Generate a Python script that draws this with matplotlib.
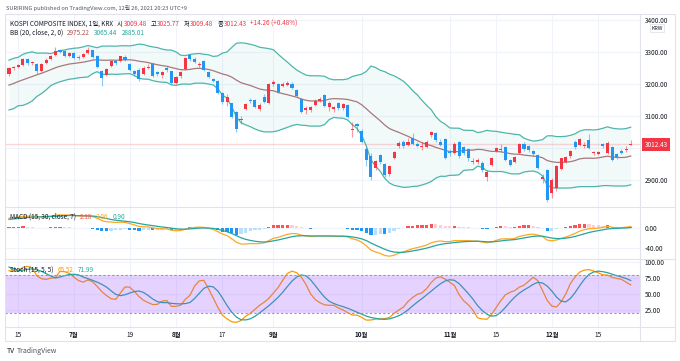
import matplotlib
matplotlib.use('Agg')
import matplotlib.pyplot as plt
import numpy as np
import pandas as pd
from matplotlib.lines import Line2D
from matplotlib.patches import Rectangle
from matplotlib.ticker import FormatStrFormatter

plt.rcParams['font.family'] = ['Noto Sans CJK KR', 'DejaVu Sans']
plt.rcParams['axes.unicode_minus'] = False

W, H = 680, 361

# closes before the visible range (only feed the indicators)
pre_close = [3087, 3112, 3120, 3127, 3137, 3143, 3131, 3135, 3169, 3182, 3194, 3198,
             3198, 3220, 3171, 3177, 3186, 3217, 3215, 3181, 3174, 3147,
             3127, 3147, 3178, 3197, 3249, 3209, 3161, 3122, 3153, 3134, 3173,
             3162, 3156, 3144, 3168, 3165, 3165, 3188, 3204,
             3221, 3224, 3247, 3240, 3252, 3247, 3216, 3225]

holidays = ['2021-08-16', '2021-09-20', '2021-09-21', '2021-09-22', '2021-10-04', '2021-10-11']

opens = [3230, 3249, 3254, 3259, 3277, 3265, 3262, 3240, 3265, 3277, 3290, 3305, 3303, 3287,
         3297, 3285, 3285, 3297, 3305, 3288, 3240, 3228, 3257, 3272, 3273, 3285, 3262, 3240,
         3245, 3232, 3250, 3262, 3238, 3228, 3249, 3240,
         3203, 3224, 3246, 3290, 3279, 3258, 3272, 3238, 3215, 3210, 3171, 3145, 3140, 3112,
         3086, 3121, 3150, 3150, 3122, 3160, 3142,
         3199, 3200, 3194, 3198, 3201, 3181, 3152, 3118, 3120, 3135, 3148, 3165, 3129, 3123,
         3140, 3125, 3133, 3055, 3075,
         3053, 2998, 2975, 2936, 2978, 2950, 2918, 2968, 3005, 3020, 3010, 3030, 3014, 3003,
         3004, 3040, 3048, 3020, 3027,
         2989, 2983, 3020, 3004, 2996, 2957, 2957, 2952, 2910, 2947, 2992, 2993, 3004, 2962,
         2957, 2983, 3014, 3005, 2990, 2978, 2902, 2931,
         2858, 2874, 2935, 2957, 2975, 3018, 3009, 3005, 3024, 2983, 2982, 3012, 2985, 3003,
         2980, 2992, 2993, 3009.48]
highs = [3254, 3256, 3262, 3282, 3280, 3272, 3266, 3267, 3280, 3292, 3316, 3310, 3306, 3300,
         3300, 3292, 3296, 3316, 3307, 3292, 3243, 3250, 3275, 3276, 3288, 3290, 3265, 3245,
         3250, 3255, 3262, 3268, 3242, 3240, 3255, 3242,
         3225, 3240, 3284, 3294, 3283, 3268, 3276, 3242, 3218, 3212, 3174, 3170, 3142, 3115,
         3100, 3142, 3156, 3153, 3142, 3168, 3202,
         3212, 3203, 3205, 3208, 3206, 3184, 3155, 3132, 3130, 3152, 3158, 3170, 3148, 3130,
         3143, 3140, 3137, 3080, 3078,
         3058, 3002, 2985, 2962, 2982, 2952, 2946, 2990, 3022, 3025, 3030, 3048, 3020, 3018,
         3025, 3052, 3050, 3028, 3030,
         2996, 3018, 3022, 3007, 2999, 2970, 2968, 2958, 2930, 2971, 3003, 3014, 3007, 2966,
         2975, 3016, 3018, 3008, 2995, 2981, 2920, 2935,
         2905, 2948, 2970, 2975, 2993, 3025, 3032, 3018, 3043, 2992, 2992, 3016, 3022, 3005,
         2985, 2996, 3005, 3025.77]
lows = [3226, 3244, 3250, 3256, 3260, 3258, 3230, 3238, 3262, 3275, 3288, 3296, 3284, 3283,
        3278, 3275, 3282, 3293, 3280, 3250, 3195, 3224, 3254, 3260, 3270, 3272, 3240, 3225,
        3210, 3228, 3246, 3222, 3226, 3218, 3238, 3200,
        3200, 3220, 3244, 3272, 3265, 3252, 3240, 3218, 3205, 3168, 3138, 3130, 3095, 3049,
        3075, 3118, 3140, 3125, 3115, 3140, 3138,
        3195, 3172, 3190, 3194, 3185, 3160, 3110, 3105, 3112, 3132, 3144, 3128, 3115, 3112,
        3120, 3120, 3095, 3035, 3050,
        3015, 2944, 2901, 2930, 2950, 2910, 2912, 2965, 3000, 3000, 3005, 3010, 3002, 2995,
        3000, 3035, 3020, 3005, 2965,
        2976, 2980, 2970, 2979, 2960, 2950, 2950, 2926, 2897, 2944, 2986, 2989, 2958, 2944,
        2952, 2980, 2990, 2989, 2975, 2934, 2890, 2832,
        2845, 2865, 2930, 2952, 2970, 2998, 3005, 3000, 2998, 2978, 2978, 3000, 2980, 2960,
        2965, 2980, 2988, 3009.48]
closes = [3249, 3252, 3258, 3278, 3265, 3268, 3240, 3264, 3276, 3286, 3302, 3301, 3286, 3296,
          3282, 3281, 3293, 3305, 3285, 3252, 3218, 3246, 3271, 3265, 3286, 3276, 3244, 3232,
          3216, 3250, 3254, 3225, 3232, 3236, 3243, 3202,
          3223, 3237, 3280, 3277, 3270, 3262, 3243, 3222, 3209, 3171, 3143, 3158, 3097, 3060,
          3091, 3138, 3146, 3128, 3133, 3144, 3199,
          3207, 3175, 3201, 3203, 3187, 3162, 3114, 3125, 3127, 3148, 3153, 3130, 3140, 3127,
          3125, 3136, 3097, 3060, 3068,
          3019, 2962, 2908, 2959, 2956, 2916, 2944, 2988, 3015, 3006, 3020, 3013, 3007, 3006,
          3020, 3049, 3025, 3009, 2968,
          2983, 3013, 2975, 2983, 2969, 2960, 2962, 2930, 2925, 2968, 2999, 2997, 2962, 2947,
          2971, 3013, 2997, 2994, 2980, 2936, 2909, 2839,
          2900, 2945, 2968, 2973, 2991, 3002, 3029, 3010, 3001, 2987, 2989, 3006, 3017, 2963,
          2973, 2985, 2998.17, 3012.43]

tick_dates = ['2021-06-15', '2021-07-01', '2021-07-19', '2021-08-02', '2021-08-17', '2021-09-01',
              '2021-10-01', '2021-11-01', '2021-11-15', '2021-12-01', '2021-12-15']
tick_labels = ['15', '7월', '19', '8월', '17', '9월', '10월', '11월', '15', '12월', '15']
price_ticks = [3400, 3300, 3200, 3100, 3000, 2900]
macd_ticks = [0, -40]
stoch_ticks = [100, 75, 50, 25]

dates = pd.bdate_range('2021-06-11', '2021-12-24')
dates = dates[~dates.isin(pd.to_datetime(holidays))]
x = np.arange(len(dates))

# indicators
n_pre = len(pre_close)
c_all = pd.Series(pre_close + closes, dtype=float)
h_all = pd.Series(pre_close + highs, dtype=float)
l_all = pd.Series(pre_close + lows, dtype=float)

basis = c_all.rolling(20).mean()
dev = c_all.rolling(20).std(ddof=0)
upper = (basis + 2 * dev)[n_pre:].values
lower = (basis - 2 * dev)[n_pre:].values
basis = basis[n_pre:].values

macd = c_all.ewm(span=15, adjust=False).mean() - c_all.ewm(span=30, adjust=False).mean()
signal = macd.ewm(span=7, adjust=False).mean()
hist = macd - signal
hist_prev = hist.shift(1)
macd, signal, hist, hist_prev = [s[n_pre:].values for s in (macd, signal, hist, hist_prev)]

ll = l_all.rolling(15).min()
hh = h_all.rolling(15).max()
k = (100 * (c_all - ll) / (hh - ll)).rolling(5).mean()
d = k.rolling(5).mean()
k, d = k[n_pre:].values, d[n_pre:].values

UP, DOWN = '#f23645', '#2196f3'
TEAL = '#26a69a'
GRID = '#f0f3fa'
BORDER = '#e0e3eb'
TXT = '#131722'
FS = 4.6

fig = plt.figure(figsize=(6.8, 3.61), dpi=100)


def rect(x0, y0, x1, y1):
    return [x0 / W, 1 - y1 / H, (x1 - x0) / W, (y1 - y0) / H]


ax = fig.add_axes(rect(5, 14, 640, 207))
axm = fig.add_axes(rect(5, 207, 640, 259), sharex=ax)
axs = fig.add_axes(rect(5, 259, 640, 327), sharex=ax)

tick_pos = [int(np.where(dates == pd.Timestamp(t))[0][0]) for t in tick_dates]

for a in (ax, axm, axs):
    for sp in a.spines.values():
        sp.set_visible(False)
    a.yaxis.tick_right()
    a.yaxis.set_major_formatter(FormatStrFormatter('%.2f'))
    a.tick_params(axis='y', length=0, pad=3.5, labelsize=FS, labelcolor=TXT)
    a.tick_params(axis='x', length=0)
    a.grid(True, color=GRID, lw=0.8)
    a.set_axisbelow(True)
    a.set_xticks(tick_pos)
ax.tick_params(axis='x', labelbottom=False)
axm.tick_params(axis='x', labelbottom=False)
axs.set_xticklabels(tick_labels)
axs.tick_params(axis='x', pad=3, labelsize=FS, labelcolor=TXT)
for lab in axs.get_xticklabels():
    if lab.get_text().endswith('월'):
        lab.set_fontweight('bold')
ax.set_xlim(-0.86, 136.0)

# main pane: Bollinger bands + candles
ax.fill_between(x, lower, upper, color=TEAL, alpha=0.06, lw=0)
ax.plot(x, upper, color='#4db6ac', lw=0.9)
ax.plot(x, lower, color='#4db6ac', lw=0.9)
ax.plot(x, basis, color='#a8787a', lw=0.9)
ax.axhline(closes[-1], color=UP, alpha=0.2, lw=1)

o = np.array(opens)
c = np.array(closes)
up = c >= o
col = np.where(up, UP, DOWN)
ax.vlines(x, lows, highs, colors=col, lw=0.8, alpha=0.5, zorder=2)
ax.bar(x, np.maximum(np.abs(c - o), 1.5), bottom=np.minimum(o, c), width=0.66,
       color=col, zorder=3)
ax.set_ylim(2815.6, 3418.75)
ax.set_yticks(price_ticks)

# MACD pane
hcol = np.where(hist >= 0,
                np.where(hist >= hist_prev, '#ff5252', '#ffcdd2'),
                np.where(hist < hist_prev, '#2196f3', '#bbdefb'))
axm.bar(x, hist, width=0.7, color=hcol, zorder=2)
axm.plot(x, macd, color='#ffa726', lw=0.9, zorder=3)
axm.plot(x, signal, color=TEAL, lw=0.9, zorder=3)
axm.set_ylim(-62, 42)
axm.set_yticks(macd_ticks)

# Stoch pane
axs.plot(x, k, color='#ff9800', lw=0.9, zorder=2)
axs.plot(x, d, color=TEAL, lw=0.9, zorder=2)
axs.axhspan(20, 80, color='#9c4dff', alpha=0.25, lw=0, zorder=3)
for lvl in (80, 20):
    axs.axhline(lvl, color='#9598a1', lw=0.8, ls=(0, (2, 2)), zorder=4)
axs.set_ylim(-1.6, 104.7)
axs.set_yticks(stoch_ticks)

# frame and pane separators
fig.add_artist(Rectangle((5 / W, 1 - 341 / H), 670 / W, 327 / H, transform=fig.transFigure,
                         fill=False, ec=BORDER, lw=0.8))
for yy in (207, 259, 327):
    fig.add_artist(Line2D([5 / W, 675 / W], [1 - yy / H] * 2, color=BORDER, lw=0.8))
fig.add_artist(Line2D([640 / W] * 2, [1 - 14 / H, 1 - 341 / H], color=BORDER, lw=0.8))

# text rows
renderer = fig.canvas.get_renderer()


def text_row(x0, y0, parts, size=FS):
    xx = x0
    for s, color, gap in parts:
        xx += gap
        t = fig.text(xx / W, 1 - y0 / H, s, color=color, fontsize=size, ha='left', va='center')
        xx += t.get_window_extent(renderer).width


text_row(6, 8, [('SURIRING published on TradingView.com, 12월 26, 2021 20:23 UTC+9', '#50535e', 0)],
         size=4.1)
chg = closes[-1] - closes[-2]
text_row(10, 24, [('KOSPI COMPOSITE INDEX, 1일, KRX', TXT, 0),
                  ('시', TXT, 4), (f'{opens[-1]:.2f}', UP, 0.5),
                  ('고', TXT, 4), (f'{highs[-1]:.2f}', UP, 0.5),
                  ('저', TXT, 4), (f'{lows[-1]:.2f}', UP, 0.5),
                  ('종', TXT, 4), (f'{closes[-1]:.2f}', UP, 0.5),
                  (f'+{chg:.2f} (+{chg / closes[-2] * 100:.2f}%)', UP, 3)])
text_row(10, 33, [('BB (20, close, 2, 0)', TXT, 0), ('2975.22', '#b0504a', 4),
                  ('3065.44', TEAL, 4), ('2885.01', TEAL, 4)])
text_row(10, 217, [('MACD (15, 30, close, 7)', TXT, 0), ('2.18', '#ff5252', 4),
                   ('3.06', '#ffa726', 4), ('0.90', TEAL, 4)])
text_row(10, 270, [('Stoch (15, 5, 5)', TXT, 0), ('65.52', '#ff9800', 4), ('71.99', TEAL, 4)])
text_row(7, 351, [('TV', TXT, 0), ('TradingView', '#50535e', 2)], size=5)

# currency badge and last price label
fig.text(657 / W, 1 - 28 / H, 'KRW', fontsize=3.8, color=TXT, ha='center', va='center',
         bbox=dict(boxstyle='square,pad=0.25', fc='white', ec=BORDER, lw=0.6))
fig.text(656 / W, 1 - 144.5 / H, f'{closes[-1]:.2f}', fontsize=FS, color='white',
         ha='center', va='center',
         bbox=dict(boxstyle='square,pad=0.35', fc=UP, ec=UP, lw=0))

fig.savefig('out.png', dpi=100)
